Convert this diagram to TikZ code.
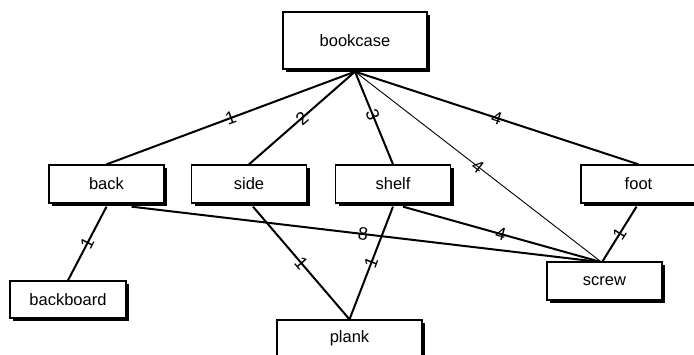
\documentclass[tikz,border=0pt]{standalone}
\usepackage{fontspec}
\setmainfont{Liberation Sans}
\usetikzlibrary{shadows}
\begin{document}
\begin{tikzpicture}[x=1pt,y=-1pt,
  part/.style={draw=black, line width=1.3pt, fill=white, inner sep=0pt,
    minimum width=115pt, minimum height=38pt,
    font=\fontsize{16.5}{18}\selectfont,
    drop shadow={shadow xshift=3pt, shadow yshift=-3pt, fill=black, opacity=1}},
  bigpart/.style={part, minimum width=144pt},
  uses/.style={draw=black, line width=2pt},
  usesthin/.style={draw=black, line width=0.9pt},
  qty/.style={sloped, inner sep=0pt, font=\fontsize{18}{20}\selectfont}]
  \useasboundingbox (0,0) rectangle (694,354);

  % parts
  \node[bigpart, minimum height=57pt] (bookcase) at (355,40.5) {bookcase};
  \node[part] (back) at (106.5,184) {back};
  \node[part] (side) at (249,184) {side};
  \node[part] (shelf) at (393,184) {shelf};
  \node[part] (foot) at (638.5,184) {foot};
  \node[part] (screw) at (604.5,281) {screw};
  \node[part, minimum width=116pt, minimum height=37pt] (backboard) at (68,299.5) {backboard};
  \node[bigpart, minimum width=145pt, minimum height=37pt] (plank) at (349.5,338.5) {plank};

  % attachment points just below the shadows
  \coordinate (bcs) at ([yshift=-2pt]bookcase.south);
  \coordinate (bks) at ([yshift=-3pt]back.south);
  \coordinate (bks2) at ([xshift=25pt,yshift=-3pt]back.south);
  \coordinate (sds) at ([xshift=4pt,yshift=-3pt]side.south);
  \coordinate (shs) at ([yshift=-3pt]shelf.south);
  \coordinate (shs2) at ([xshift=10pt,yshift=-3pt]shelf.south);
  \coordinate (fts) at ([xshift=-2pt,yshift=-3pt]foot.south);

  % quantity links
  \draw[uses] (bcs) -- node[qty] {1} (back.north);
  \draw[uses] (bcs) -- node[qty] {2} (side.north);
  \draw[uses] (bcs) -- node[qty, xshift=-3pt] {3} (shelf.north);
  \draw[uses] (bcs) -- node[qty] {4} (foot.north);
  \draw[usesthin] (bcs) -- node[qty] {4} ([xshift=-4pt]screw.north);
  \draw[uses] (bks) -- node[qty] {1} (backboard.north);
  \draw[uses] (bks2) -- node[qty] {8} ([xshift=-10pt]screw.north);
  \draw[uses] (sds) -- node[qty] {1} (plank.north);
  \draw[uses] (shs) -- node[qty] {1} (plank.north);
  \draw[uses] (shs2) -- node[qty] {4} ([xshift=-6pt]screw.north);
  \draw[uses] (fts) -- node[qty] {1} ([xshift=-2pt]screw.north);
\end{tikzpicture}
\end{document}
